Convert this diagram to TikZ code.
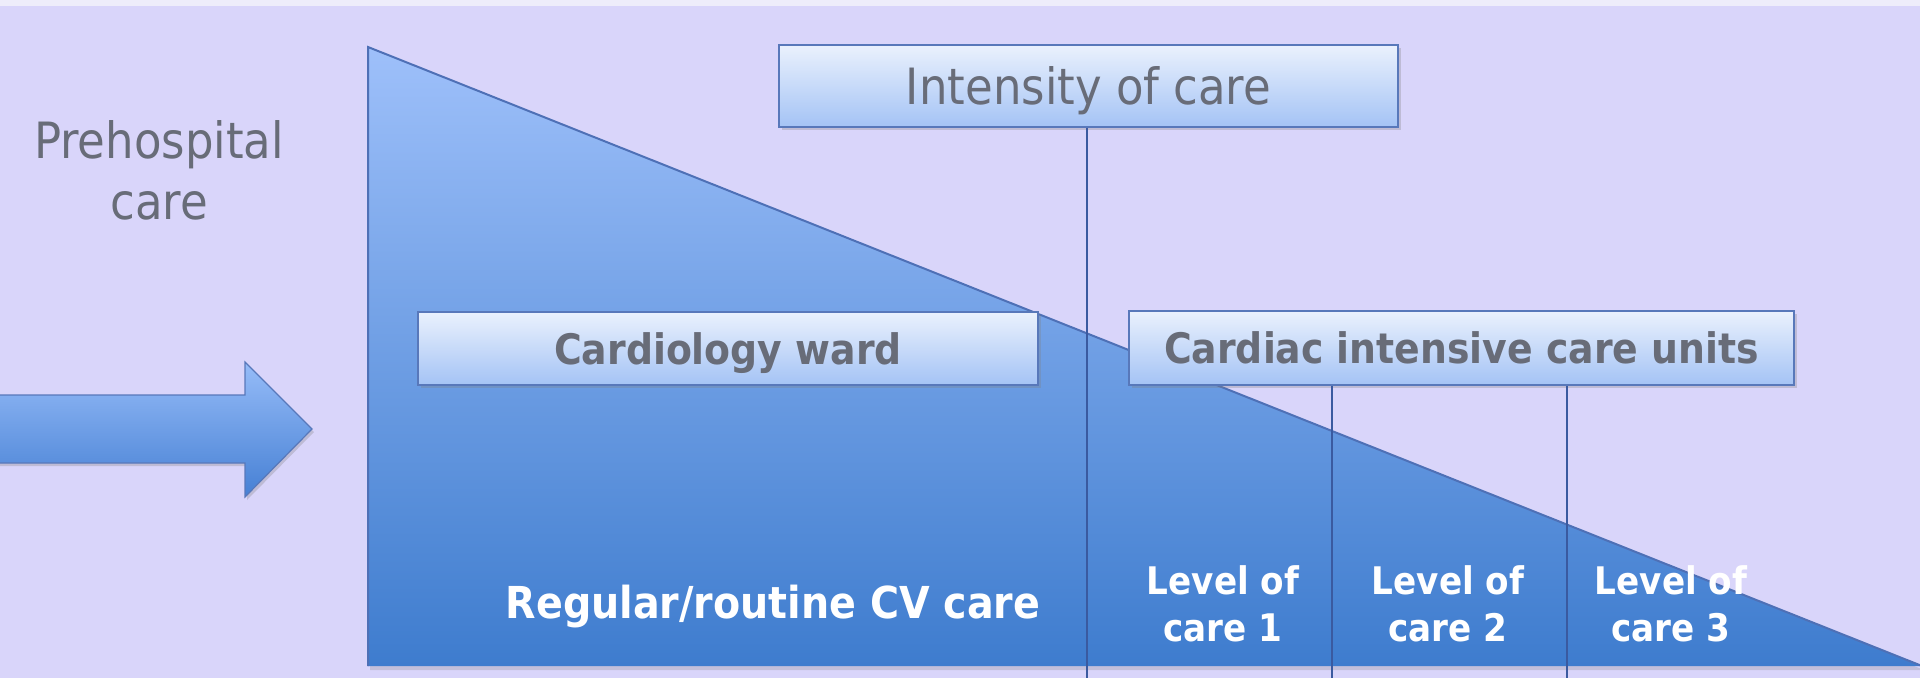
\documentclass[tikz,border=0pt]{standalone}
\usepackage{fontspec}
\setmainfont{DejaVu Sans Condensed}
\usetikzlibrary{shadows}
\definecolor{lavBack}{RGB}{217,213,250}
\definecolor{lavTop}{RGB}{238,237,250}
\definecolor{triTop}{RGB}{158,192,250}
\definecolor{triBot}{RGB}{62,124,206}
\definecolor{edgeLine}{RGB}{78,112,182}
\definecolor{arrowTop}{RGB}{150,188,248}
\definecolor{arrowBot}{RGB}{70,128,212}
\definecolor{boxTop}{RGB}{234,241,253}
\definecolor{boxBot}{RGB}{164,195,245}
\definecolor{boxLine}{RGB}{88,120,186}
\definecolor{sepLine}{RGB}{58,90,160}
\definecolor{textGray}{RGB}{104,108,120}
\begin{document}
\begin{tikzpicture}
[x=1pt,y=-1pt,
  boxDecorate/.style={shape=rectangle,draw=boxLine,line width=1.5pt,
    top color=boxTop,bottom color=boxBot,text=textGray,inner sep=0pt,text depth=0pt,
    drop shadow={shadow xshift=3pt,shadow yshift=-3pt,opacity=0.3}},
  levelDecorate/.style={align=center,text=white,font=\bfseries\fontsize{38}{47}\selectfont},
  sepDecorate/.style={draw=sepLine,line width=1.5pt}]
\useasboundingbox (0,0) rectangle (1920,678);
%% background
\fill[lavBack] (0,0) rectangle (1920,678);
\fill[lavTop] (0,0) rectangle (1920,6);
%% the falling triangle
\coordinate (apex) at (368,47);
\coordinate (corner) at (368,666);
\coordinate (tip) at (1922,666);
\shade[top color=triTop,bottom color=triBot,
  drop shadow={shadow xshift=2pt,shadow yshift=-4pt,opacity=0.25}]
  (apex) -- (tip) -- (corner) -- cycle;
\draw[edgeLine,line width=2pt] (corner) -- (apex) -- (tip);
%% block arrow
\shade[top color=arrowTop,bottom color=arrowBot,draw=boxLine,line width=1.2pt,
  drop shadow={shadow xshift=2pt,shadow yshift=-3pt,opacity=0.3}]
  (-5,395) -- (245,395) -- (245,362) -- (312,429) -- (245,497) -- (245,463) -- (-5,463) -- cycle;
\node[align=center,text=textGray,font=\fontsize{50}{61}\selectfont] (prehosp) at (159,170)
  {Prehospital\\care};
%% boxes
\node[boxDecorate,minimum width=619pt,minimum height=82pt,font=\fontsize{50}{61}\selectfont]
  (intensity) at (1088.5,86) {Intensity of care};
\node[boxDecorate,minimum width=620pt,minimum height=73pt,font=\bfseries\fontsize{42}{50}\selectfont]
  (ward) at (728,348.5) {Cardiology ward};
\node[boxDecorate,minimum width=665pt,minimum height=74pt,font=\bfseries\fontsize{42}{50}\selectfont]
  (cicu) at (1461.5,348) {Cardiac intensive care units};
%% separator lines
\foreach \sepname/\x/\topnode in {sepA/1087/intensity, sepB/1332/cicu, sepC/1567/cicu}
{
  \coordinate (\sepname) at (\x,678);
  \draw[sepDecorate] (\topnode.south -| \sepname) -- (\sepname);
}
%% labels at the bottom
\node[text=white,font=\bfseries\fontsize{44}{52}\selectfont] (routine) at (773,607)
  {Regular/routine CV care};
\foreach \lvlname/\x/\num in {lvlA/1223/1, lvlB/1448/2, lvlC/1671/3}
{
  \node[levelDecorate] (\lvlname) at (\x,604) {Level of\\care \num};
}
\end{tikzpicture}
\end{document}
